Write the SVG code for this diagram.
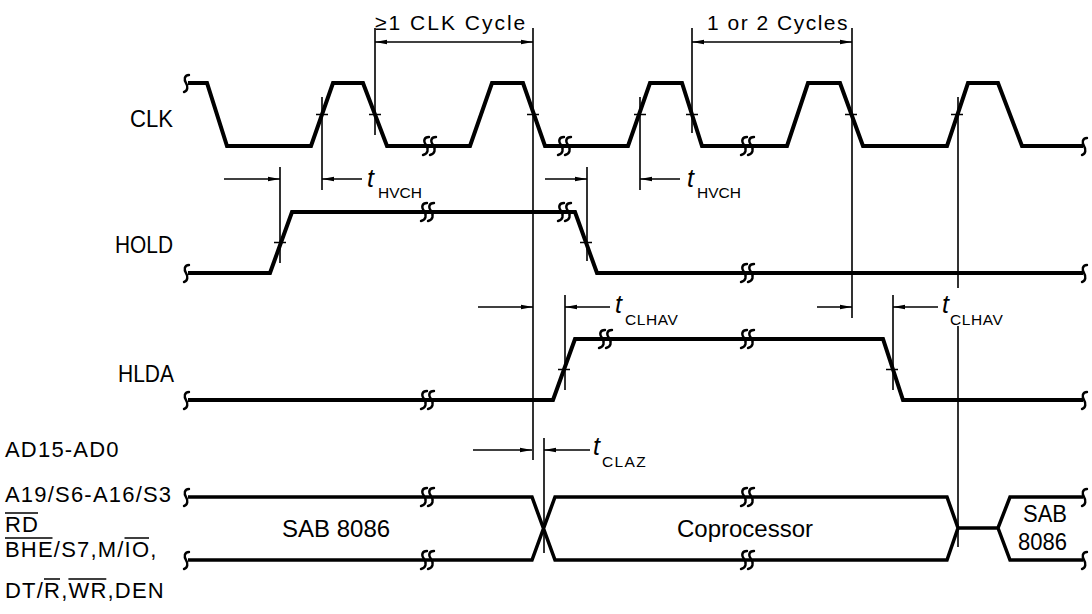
<svg xmlns="http://www.w3.org/2000/svg" xmlns:xlink="http://www.w3.org/1999/xlink" width="1092" height="614" viewBox="0 0 1092 614">
<style>
.sig{fill:none;stroke:#000;stroke-width:4;stroke-linejoin:miter;stroke-linecap:butt}
.bus{fill:none;stroke:#000;stroke-width:3.5;stroke-linejoin:miter}
.thin{fill:none;stroke:#000;stroke-width:1.6}
.tick{fill:none;stroke:#000;stroke-width:1.6}
.dim{fill:none;stroke:#000;stroke-width:1.5}
.ovl{fill:none;stroke:#000;stroke-width:1.6}
.sq{fill:none;stroke:#000;stroke-width:2.4;stroke-linecap:round}
text{font-family:"Liberation Sans",Arial,sans-serif;fill:#000}
.lbl{font-size:24px}
.pin{font-size:22px;letter-spacing:1.2px}
.top{font-size:21px}
.t{font-size:25px;font-style:italic}
.sub{font-size:15.5px}
</style>
<defs>
<marker id="ar" markerUnits="userSpaceOnUse" markerWidth="13" markerHeight="7" refX="12" refY="3.5" orient="auto-start-reverse" viewBox="0 0 13 7">
<path d="M0,1.3 L12,3.5 L0,5.7 z" fill="#000"/>
</marker>
<g id="brk">
<path class="sq" d="M-1,-9 C-6,-9 -7,-5 -4,-1 C-1,3 -2,8 -7,9"/>
<path class="sq" d="M6,-9 C1,-9 0,-5 3,-1 C6,3 5,8 0,9"/>
</g>
<g id="end">
<path class="sq" d="M3,-8 C-2,-8 -2,-3 0,0 C2,3 2,8 -2,9"/>
</g>
</defs>

<g id="labels">
<text class="lbl" x="130" y="127" textLength="43" lengthAdjust="spacingAndGlyphs">CLK</text>
<text class="lbl" x="115" y="253" textLength="58" lengthAdjust="spacingAndGlyphs">HOLD</text>
<text class="lbl" x="118" y="382" textLength="56" lengthAdjust="spacingAndGlyphs">HLDA</text>
<text class="pin" x="5" y="457">AD15-AD0</text>
<text class="pin" x="5" y="502">A19/S6-A16/S3</text>
<text class="pin" x="5" y="532">RD</text>
<text class="pin" x="5" y="557">BHE/S7,M/IO,</text>
<text class="pin" x="5" y="598">DT/R,WR,DEN</text>
<path class="ovl" d="M5,513 H38 M5,538 H52.5 M124.5,538 H149 M44,579 H60 M68.4,579 H106.3"/>
</g>

<g id="clk">
<path class="sig" d="M188,83 L207,83 L227,146 L311,146 L333,83 L363,83 L387,146 L470,146 L492,83 L523,83 L545,146 L628,146 L650,83 L682,83 L702,146 L787,146 L808,83 L840,83 L863,146 L947,146 L968,83 L998,83 L1022,146 L1083,146"/>
<use href="#end" x="186" y="83"/>
<use href="#end" x="1084" y="146"/>
<use href="#brk" x="430" y="146"/>
<use href="#brk" x="565" y="146"/>
<use href="#brk" x="748" y="146"/>
</g>

<g id="hold">
<path class="sig" d="M188,273 L270,273 L292,212 L575,212 L597,273 L1083,273"/>
<use href="#end" x="186" y="273"/>
<use href="#end" x="1084" y="273"/>
<use href="#brk" x="428" y="212"/>
<use href="#brk" x="565" y="212"/>
<use href="#brk" x="748" y="273"/>
</g>

<g id="hlda">
<path class="sig" d="M188,400 L553,400 L575,339 L883,339 L903,400 L1083,400"/>
<use href="#end" x="186" y="400"/>
<use href="#end" x="1084" y="400"/>
<use href="#brk" x="428" y="400"/>
<use href="#brk" x="606" y="339"/>
<use href="#brk" x="748" y="339"/>
</g>

<g id="busline">
<path class="bus" d="M188,497 L532,497 L555,560 L947,560 L958,528 L947,497 L555,497 L532,560 L188,560"/>
<path class="bus" d="M958,528 L998,528 L1010,497 L1083,497 M998,528 L1010,560 L1083,560"/>
<use href="#end" x="186" y="497"/>
<use href="#end" x="186" y="560"/>
<use href="#end" x="1084" y="497"/>
<use href="#end" x="1084" y="560"/>
<use href="#brk" x="428" y="497"/>
<use href="#brk" x="428" y="560"/>
<use href="#brk" x="748" y="497"/>
<use href="#brk" x="748" y="560"/>
<text class="lbl" x="282" y="537">SAB 8086</text>
<text class="lbl" x="677" y="537">Coprocessor</text>
<text class="lbl" x="1023" y="522" style="font-size:23px" textLength="44" lengthAdjust="spacingAndGlyphs">SAB</text>
<text class="lbl" x="1018" y="550" style="font-size:23px" textLength="49" lengthAdjust="spacingAndGlyphs">8086</text>
</g>

<g id="connectors">
<path class="thin" d="M322,97 V190 M375,28 V135 M533,28 V460 M640,97 V190 M692,28 V133 M852,28 V318 M958,97 V288 M958,326 V547 M280,167 V263 M587,167 V261 M565,295 V390 M893,295 V390 M544,438 V553"/>
<path class="tick" d="M316,114.5 H328 M369,114.5 H381 M527,114.5 H539 M634,114.5 H646 M686,114.5 H698 M845,114.5 H857 M951,114.5 H963 M274,242.5 H286 M580,242.5 H592 M558,369.5 H570 M886,369.5 H898"/>
<path class="dim" d="M375,42 H533" marker-start="url(#ar)" marker-end="url(#ar)"/>
<path class="dim" d="M692,42 H852" marker-start="url(#ar)" marker-end="url(#ar)"/>
<path class="dim" d="M224,179 H280" marker-end="url(#ar)"/>
<path class="dim" d="M362,179 H322" marker-end="url(#ar)"/>
<path class="dim" d="M545,179 H587" marker-end="url(#ar)"/>
<path class="dim" d="M680,179 H640" marker-end="url(#ar)"/>
<path class="dim" d="M478,307 H533" marker-end="url(#ar)"/>
<path class="dim" d="M610,307 H565" marker-end="url(#ar)"/>
<path class="dim" d="M817,307 H852" marker-end="url(#ar)"/>
<path class="dim" d="M938,307 H893" marker-end="url(#ar)"/>
<path class="dim" d="M473,450 H532" marker-end="url(#ar)"/>
<path class="dim" d="M590,450 H544" marker-end="url(#ar)"/>
</g>

<g id="annotations">
<text class="top" x="375" y="30" style="letter-spacing:2px">≥1 CLK Cycle</text>
<text class="top" x="707" y="30" style="letter-spacing:1.5px">1 or 2 Cycles</text>
<text class="t" x="367" y="187">t</text><text class="sub" x="378" y="198">HVCH</text>
<text class="t" x="687" y="187">t</text><text class="sub" x="697" y="198">HVCH</text>
<text class="t" x="615" y="313">t</text><text class="sub" x="625" y="325" style="letter-spacing:0.6px">CLHAV</text>
<text class="t" x="942" y="313">t</text><text class="sub" x="950" y="325" style="letter-spacing:0.6px">CLHAV</text>
<text class="t" x="593" y="455">t</text><text class="sub" x="602" y="467" style="letter-spacing:1.4px">CLAZ</text>
</g>
</svg>
